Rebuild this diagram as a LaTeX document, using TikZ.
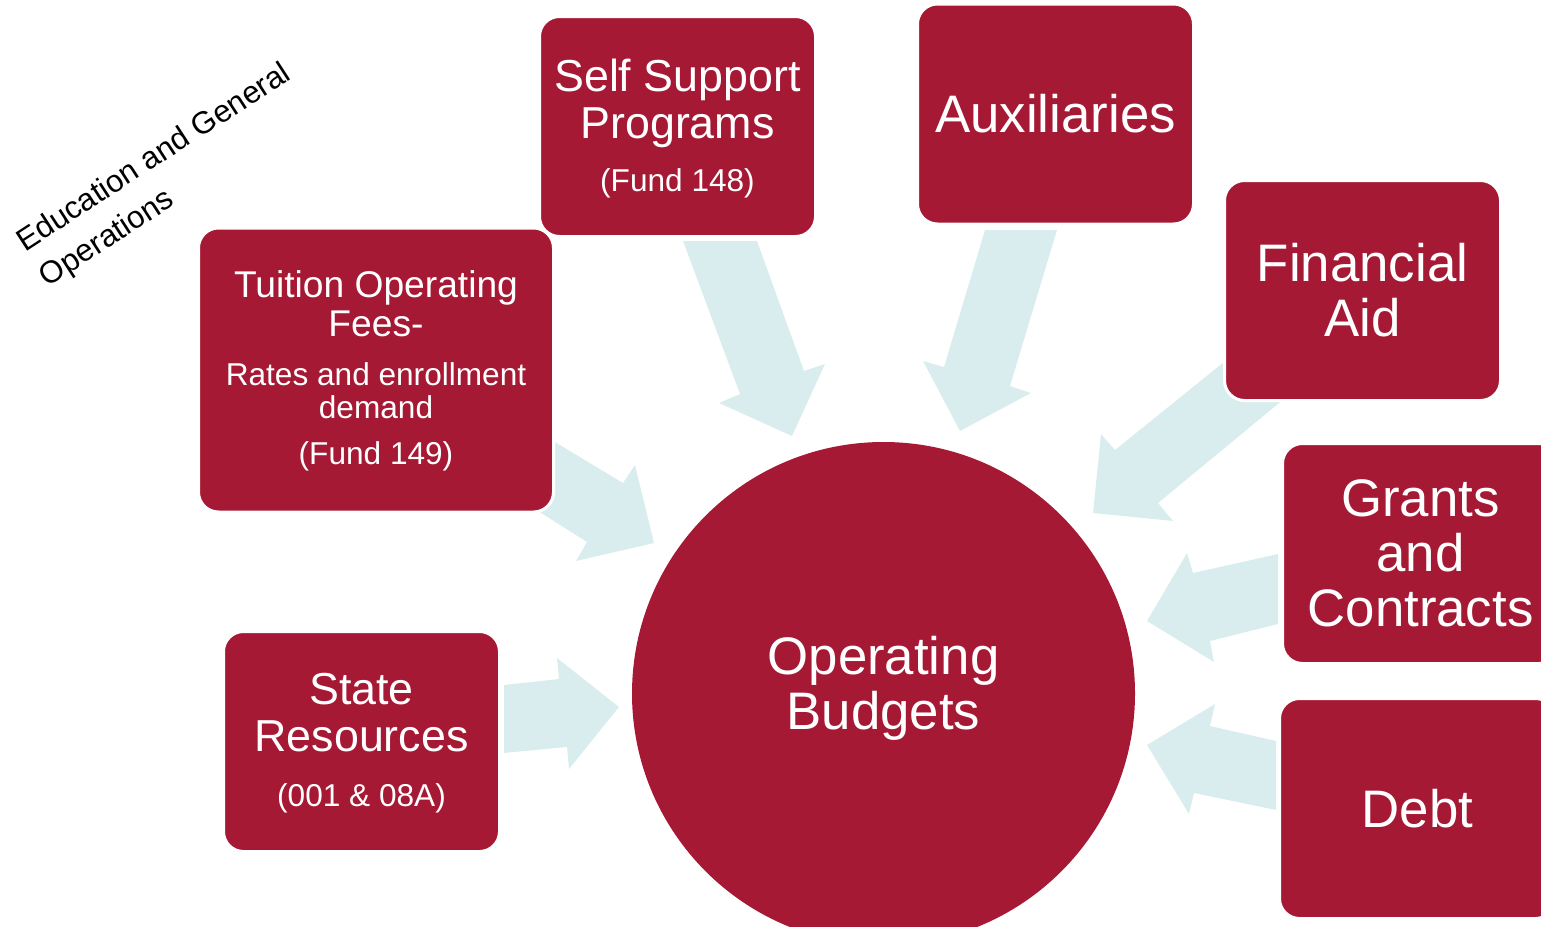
\documentclass[tikz,border=0pt]{standalone}
\usepackage{fontspec}
\setmainfont{Liberation Sans}
\usetikzlibrary{positioning}
\definecolor{budgetred}{RGB}{166,25,52}
\definecolor{flowblue}{RGB}{218,237,238}
\newcommand{\fundnote}{\fontsize{15.8}{16.5}\selectfont}

\begin{document}
\begin{tikzpicture}[x=0.5pt,y=-0.5pt,
    fundbox/.style={rectangle,rounded corners=10pt,fill=budgetred,draw=white,line width=1.5pt,
      text=white,align=center,inner sep=0pt,minimum width=138pt,minimum height=110pt},
    inflow/.style={fill=flowblue},
    bigtext/.style={font=\fontsize{26.4}{27.5}\selectfont},
    midtext/.style={font=\fontsize{22.4}{23.5}\selectfont}]
    \useasboundingbox (0,0) rectangle (1541,926);
    % block arrows, drawn first so the boxes sit on their tails
    \fill[inflow] (683,241)--(757,241)--(804,371)--(825,364)--(792,436)--(719,403)--(740,394)--cycle;
    \fill[inflow] (985,230)--(1057,230)--(1010,386)--(1031,393)--(960,431)--(923,361)--(944,367)--cycle;
    \fill[inflow] (1245,345)--(1290,394)--(1158,503)--(1173,521)--(1093,513)--(1101,434)--(1115,450)--cycle;
    \fill[inflow] (1278,554)--(1278,624)--(1210,641)--(1214,662)--(1147,621)--(1187,553)--(1193,573)--cycle;
    \fill[inflow] (1276,741)--(1276,810)--(1194,793)--(1189,814)--(1147,745)--(1215,704)--(1210,726)--cycle;
    \fill[inflow] (504,685)--(559,679)--(557,658)--(619,707)--(569,769)--(567,747)--(504,753)--cycle;
    \fill[inflow] (540,433)--(623,483)--(635,465)--(654,543)--(576,561)--(587,542)--(530,506)--cycle;
    % sources
    \node[fundbox,minimum width=177.5pt,minimum height=142pt,font=\fontsize{18.6}{19.5}\selectfont,
      text depth=2pt] (tuition) at (376,370)
      {Tuition Operating\\ Fees-\\[5pt]
       \fundnote Rates and enrollment\\[-3pt] \fundnote demand\\[3.5pt] \fundnote (Fund 149)};
    \node[fundbox,midtext,text depth=1.5pt] (selfsupport) at (677.5,126.5)
      {Self Support\\ Programs\\[3pt]\fundnote (Fund 148)};
    \node[fundbox,bigtext] (auxiliaries) at (1055.5,114) {Auxiliaries};
    \node[fundbox,bigtext] (finaid) at (1362.5,290.5) {Financial\\ Aid};
    \node[fundbox,bigtext] (grants) at (1420.5,553.5) {Grants\\ and\\ Contracts};
    \node[fundbox,bigtext] (debt) at (1417.5,808.5) {Debt};
    \node[fundbox,midtext,text depth=1.5pt] (state) at (361.5,741.5)
      {State\\ Resources\\[4pt]\fundnote (001 \& 08A)};
    % target
    \node[circle,fill=budgetred,inner sep=0pt,minimum size=251.5pt,text=white,align=center,
      bigtext,text depth=10.5pt] (budgets) at (883.5,693.5) {Operating\\ Budgets};
    \node[rotate=33,align=left,font=\fontsize{15.6}{21}\selectfont] (eandg) at (166,176)
      {Education and General\\ Operations};
\end{tikzpicture}
\end{document}
